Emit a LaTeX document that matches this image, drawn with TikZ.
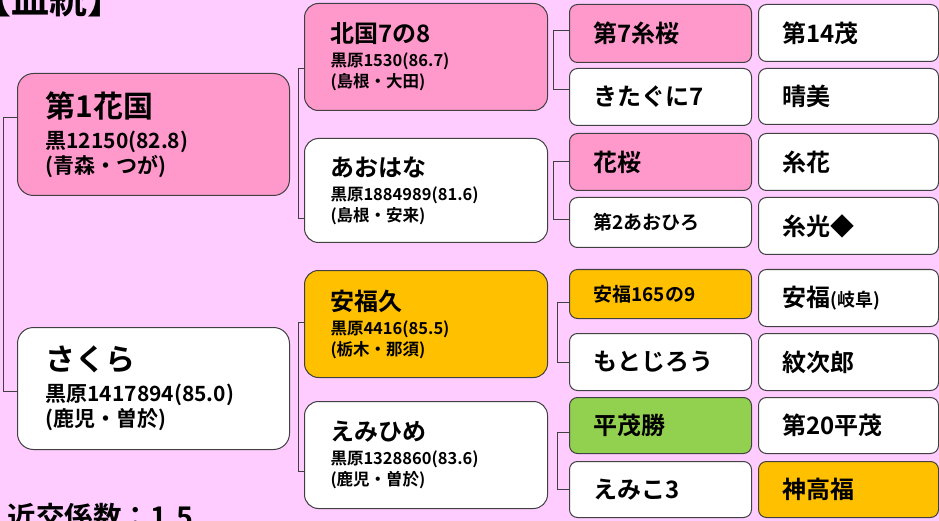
\documentclass[tikz,border=0pt]{standalone}
\usepackage{fontspec}
\setmainfont{Noto Sans CJK JP}[BoldFont=* Bold]
\usetikzlibrary{calc}
\definecolor{bgpink}{HTML}{FFCCFF}
\definecolor{boxpink}{HTML}{FF99CC}
\definecolor{boxorange}{HTML}{FFC000}
\definecolor{boxgreen}{HTML}{92D050}
\definecolor{boxline}{HTML}{404040}
\tikzset{
  box/.style={draw=boxline, line width=1pt, fill=white, anchor=north west, align=left, inner ysep=0pt},
  gen1/.style={box, rounded corners=16pt, inner xsep=28pt, text width=216pt, minimum height=122pt, font=\fontsize{21}{25}\selectfont\bfseries},
  gen2/.style={box, rounded corners=14pt, inner xsep=26pt, text width=191pt, font=\fontsize{16.5}{21}\selectfont\bfseries},
  gen3/.style={box, rounded corners=8pt, inner xsep=24pt, text width=134pt, font=\fontsize{24}{24}\selectfont\bfseries},
  gen4/.style={box, rounded corners=8pt, inner xsep=24pt, text width=132pt, font=\fontsize{24}{24}\selectfont\bfseries},
  link/.style={draw=boxline, line width=1pt},
}

\begin{document}
\begin{tikzpicture}[x=1pt,y=-1pt]
	\useasboundingbox (0,0) rectangle (939,521);
	\clip (0,0) rectangle (939,521);
	\fill [bgpink] (0,0) rectangle (939,521);

	\node [anchor=base west, font=\fontsize{38}{38}\selectfont\bfseries] (title) at (-30,14) {【血統】};
	\node [anchor=base west, font=\fontsize{28.5}{28.5}\selectfont\bfseries] (inbreed) at (4,527) {近交係数：1.5};

	% parents
	\node [gen1, fill=boxpink] (hanakuni) at (17,73) {{\fontsize{30}{30}\selectfont 第1花国}\\[6pt]黒12150(82.8)\\(青森・つが)};
	\node [gen1] (sakura) at (17,327) {{\fontsize{30}{30}\selectfont さくら}\\[6pt]黒原1417894(85.0)\\(鹿児・曽於)};

	% grandparents
	\node [gen2, fill=boxpink, minimum height=107pt] (kita) at (304,3) {{\fontsize{24}{24}\selectfont 北国7の8}\\[3pt]黒原1530(86.7)\\(島根・大田)};
	\node [gen2, minimum height=104pt] (aohana) at (304,138) {{\fontsize{24}{24}\selectfont あおはな}\\[3pt]黒原1884989(81.6)\\(島根・安来)};
	\node [gen2, fill=boxorange, minimum height=107pt] (yasuhisa) at (304,270) {{\fontsize{24}{24}\selectfont 安福久}\\[3pt]黒原4416(85.5)\\(栃木・那須)};
	\node [gen2, minimum height=107pt] (emihime) at (304,401) {{\fontsize{24}{24}\selectfont えみひめ}\\[3pt]黒原1328860(83.6)\\(鹿児・曽於)};

	% great-grandparents
	\node [gen3, fill=boxpink, minimum height=58pt] (itozakura) at (569,4) {第7糸桜};
	\node [gen3, minimum height=57pt] (kitaguni) at (569,68) {きたぐに7};
	\node [gen3, fill=boxpink, minimum height=57pt] (hanazakura) at (569,133) {花桜};
	\node [gen3, minimum height=50pt, font=\fontsize{19}{19}\selectfont\bfseries] (aohiro) at (569,197) {第2あおひろ};
	\node [gen3, fill=boxorange, minimum height=49pt, font=\fontsize{19}{19}\selectfont\bfseries] (yasu165) at (569,269) {安福165の9};
	\node [gen3, minimum height=57pt] (motojiro) at (569,333) {もとじろう};
	\node [gen3, fill=boxgreen, minimum height=56pt] (hirashige) at (569,397) {平茂勝};
	\node [gen3, minimum height=56pt] (emiko) at (569,461) {えみこ3};

	\node [gen4, minimum height=57pt] (shige14) at (758,4) {第14茂};
	\node [gen4, minimum height=56pt] (harumi) at (758,68) {晴美};
	\node [gen4, minimum height=57pt] (itohana) at (758,133) {糸花};
	\node [gen4, minimum height=57pt] (itomitsu) at (758,197) {糸光◆};
	\node [gen4, minimum height=57pt] (yasufuku) at (758,269) {安福{\fontsize{18}{18}\selectfont(岐阜)}};
	\node [gen4, minimum height=57pt] (monjiro) at (758,333) {紋次郎};
	\node [gen4, minimum height=56pt] (hirashige20) at (758,397) {第20平茂};
	\node [gen4, fill=boxorange, minimum height=56pt] (kamitaka) at (758,461) {神高福};

	% brackets
	\draw [link] ([yshift=17pt]hanakuni.west) -- ++(-14,0) |- ([yshift=-3pt]sakura.west);
	\draw [link] ([yshift=-11.5pt]kita.west) -- ++(-6,0) |- ([yshift=-28pt]aohana.west);
	\draw [link] ([yshift=1.5pt]yasuhisa.west) -- ++(-6,0) |- ([yshift=-16.5pt]emihime.west);
	\draw [link] ([yshift=3pt]itozakura.west) -- ++(-16,0) |- ([yshift=7.5pt]kitaguni.west);
	\draw [link] (hanazakura.west) -- ++(-16,0) |- ([yshift=3pt]aohiro.west);
	\draw [link] ([yshift=-8.5pt]yasu165.west) -- ++(-12,0) |- (motojiro.west);
	\draw [link] ([yshift=-7pt]hirashige.west) -- ++(-12,0) |- (emiko.west);
\end{tikzpicture}
\end{document}
